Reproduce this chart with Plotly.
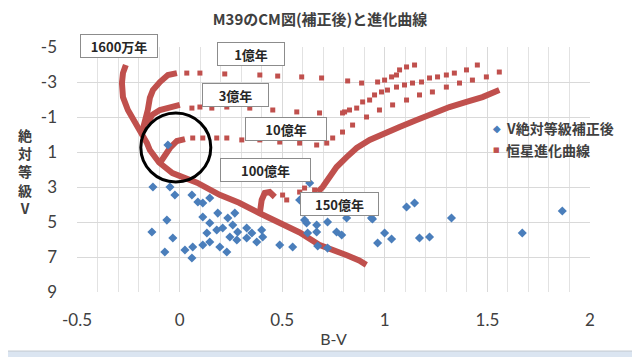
import plotly.graph_objects as go

# ---------------- data ----------------
# Observed stars of M39: B-V colour index and corrected absolute magnitude V
star_bv = [-0.130, -0.047, -0.023, 0.060, 0.089, 0.113, 0.147, 0.113, 0.186, 0.235,
           0.269, -0.062, -0.135, -0.033, 0.147, 0.181, 0.210, 0.133, 0.259, 0.283,
           0.327, 0.352, 0.400, 0.245, 0.279, 0.327, 0.376, 0.405, 0.147, 0.113,
           0.064, 0.026, -0.072, 0.060, 0.196, 0.230, 0.488, 0.551, 0.619, 0.668,
           0.454, 0.585, -0.057, 0.634, 0.609, 0.668, 0.721, 0.624, 0.765, 0.790,
           0.814, 0.935, 0.940, 1.106, 1.145, 1.325, 0.999, 1.033, 0.965, 1.169,
           1.218, 1.670, 1.865, 0.673, 0.721]
star_mv = [3.00, 3.00, 3.46, 3.46, 3.86, 3.91, 3.63, 4.71, 4.49, 4.77,
           4.49, 4.89, 5.57, 5.91, 5.06, 5.46, 5.34, 5.63, 5.17, 5.57,
           5.34, 5.63, 5.46, 5.86, 6.03, 5.91, 6.14, 5.86, 6.14, 6.31,
           6.43, 6.60, 6.71, 7.06, 6.43, 6.71, 6.31, 6.43, 5.06, 5.57,
           2.49, 3.74, 0.60, 2.77, 4.89, 5.17, 5.00, 5.63, 5.57, 5.74,
           4.77, 4.77, 4.83, 4.14, 3.91, 4.77, 5.63, 5.97, 6.20, 5.91,
           5.86, 5.63, 4.37, 6.37, 6.49]

# Isochrones (恒星進化曲線) - densely sampled parts
iso16m_bv = [-0.262, -0.276, -0.281, -0.276, -0.252, -0.218, -0.184, -0.159, -0.145, -0.100,
             -0.035, 0.085, 0.195, 0.290, 0.390, 0.490, 0.585, 0.680, 0.730, 0.815, 0.875, 0.910]
iso16m_mv = [-3.97, -3.51, -2.94, -2.14, -1.40, -0.71, -0.09, 0.49, 0.89, 1.60,
             2.20, 2.75, 3.45, 3.90, 4.50, 5.05, 5.60, 6.30, 6.50, 6.90, 7.20, 7.45]
iso1e8_bv = [-0.184, -0.169, -0.155, -0.145, -0.130, -0.096, -0.057, -0.013]
iso1e8_mv = [-0.09, -0.66, -1.40, -2.09, -2.54, -3.00, -3.40, -3.51]
iso3e8_bv = [-0.159, -0.135, -0.096, -0.057, 0.001]
iso3e8_mv = [-0.54, -1.11, -1.40, -1.51, -1.69]
iso1e9_bv = [-0.096, -0.072, -0.047, -0.013, 0.026]
iso1e9_mv = [1.63, 1.17, 0.77, 0.37, 0.26]
iso1e10_bv = [0.391, 0.400, 0.415, 0.439, 0.464]
iso1e10_mv = [4.49, 3.74, 3.34, 3.29, 3.57]
giant_bv = [0.673, 0.697, 0.731, 0.765, 0.814, 0.863, 0.926, 1.009, 1.072, 1.155,
            1.232, 1.315, 1.398, 1.476, 1.558]
giant_mv = [3.29, 3.00, 2.43, 1.86, 1.29, 0.77, 0.31, -0.14, -0.43, -0.83,
            -1.23, -1.57, -1.86, -2.14, -2.54]

# Isochrones - sparsely sampled parts (separate points)
dots1e8_bv = [0.035, 0.099, 0.220, 0.391, 0.478, 0.595, 0.692, 0.819, 0.887, 0.965,
              0.999, 1.033, 1.057, 1.072, 1.106, 1.145]
dots1e8_mv = [-3.51, -3.51, -3.46, -3.40, -3.34, -3.29, -3.23, -3.06, -2.94, -3.00,
              -3.11, -3.29, -3.40, -3.69, -3.86, -3.97]
dots3e8_bv = [0.060, 0.099, 0.157, 0.230, 0.342, 0.454, 0.571, 0.682, 0.794, 0.804,
              0.828, 0.863, 0.892, 0.926, 0.950, 0.984, 1.013, 1.057, 1.096, 1.135,
              1.179, 1.218, 1.257, 1.300, 1.339, 1.398, 1.451]
dots3e8_mv = [-1.51, -1.57, -1.51, -1.57, -1.51, -1.40, -1.29, -1.23, -1.23, -1.29,
              -1.40, -1.51, -1.86, -1.97, -2.26, -2.43, -2.54, -2.71, -2.83, -2.94,
              -3.00, -3.23, -3.29, -3.40, -3.51, -3.69, -3.97]
dots1e9_bv = [0.064, 0.113, 0.181, 0.230, 0.303, 0.391, 0.488, 0.585, 0.668, 0.717,
              0.746, 0.794, 0.843, 0.911, 0.974, 1.038, 1.106, 1.169, 1.232, 1.300,
              1.364, 1.427, 1.495, 1.558]
dots1e9_mv = [0.20, 0.20, 0.20, 0.20, 0.31, 0.31, 0.43, 0.49, 0.60, 0.49,
              0.20, -0.14, -0.54, -1.00, -1.40, -1.69, -1.97, -2.26, -2.43, -2.71,
              -2.94, -3.11, -3.29, -3.57]
dots1e10_bv = [0.502, 0.522, 0.585, 0.609, 0.644, 0.658]
dots1e10_mv = [3.46, 3.74, 3.29, 3.06, 3.46, 3.17]

# Age labels and their positions (B-V, Mv)
age_labels = ["1億年", "3億年", "10億年", "100億年", "150億年"]
age_label_bv = [0.347, 0.274, 0.517, 0.420, 0.780]
age_label_mv = [-4.60, -2.26, -0.31, 2.03, 3.97]
age_label_w = [64, 63, 78, 87, 75]

x_tick_vals = [-0.5, 0, 0.5, 1, 1.5, 2]
x_tick_text = ["-0.5", "0", "0.5", "1", "1.5", "2"]
y_tick_vals = [-5, -3, -1, 1, 3, 5, 7, 9]
y_tick_text = ["-5", "-3", "-1", "1", "3", "5", "7", "9"]

RED = "#C0504D"
BLUE = "#4A7EBB"
CJK = "Noto Sans CJK JP"
TXT = "#404040"

# ---------------- figure ----------------
fig = go.Figure()

def join(segs):
    xs, ys = [], []
    for bx, my in segs:
        xs += list(bx) + [None]
        ys += list(my) + [None]
    return xs, ys

lx, ly = join([(iso16m_bv, iso16m_mv), (iso1e8_bv, iso1e8_mv), (iso3e8_bv, iso3e8_mv),
               (iso1e9_bv, iso1e9_mv), (iso1e10_bv, iso1e10_mv), (giant_bv, giant_mv)])
fig.add_trace(go.Scatter(x=lx, y=ly, mode="lines", line=dict(color=RED, width=6),
                         showlegend=False, hoverinfo="skip"))
dx = dots1e8_bv + dots3e8_bv + dots1e9_bv + dots1e10_bv
dy = dots1e8_mv + dots3e8_mv + dots1e9_mv + dots1e10_mv
fig.add_trace(go.Scatter(x=dx, y=dy, mode="markers", name="恒星進化曲線",
                         marker=dict(symbol="square", size=5, color=RED),
                         showlegend=False))
fig.add_trace(go.Scatter(x=star_bv, y=star_mv, mode="markers", name="V絶対等級補正後",
                         marker=dict(symbol="diamond", size=7, color=BLUE),
                         showlegend=False))

annotations = []
box = dict(showarrow=False, bordercolor="#8c8c8c", borderwidth=1, bgcolor="white",
           borderpad=1, height=20, xanchor="center", yanchor="middle",
           font=dict(family=CJK, size=13, color="#262626"))
annotations.append(dict(text="<b>1600万年</b>", xref="paper", yref="paper",
                        x=0.0819, y=1.004, width=74, **box))
for t, bx, my, w in zip(age_labels, age_label_bv, age_label_mv, age_label_w):
    annotations.append(dict(text="<b>%s</b>" % t, xref="x", yref="y", x=bx, y=my,
                            width=w, **box))

# y-axis title (vertical stacked)
annotations.append(dict(text="<b>絶<br>対<br>等<br>級<br>V</b>", xref="paper", yref="paper",
                        x=-0.101, y=0.492, xanchor="center", yanchor="middle", showarrow=False,
                        font=dict(family=CJK, size=14, color=TXT)))
# legend (manual)
leg = dict(xref="paper", yref="paper", showarrow=False, yanchor="middle")
annotations.append(dict(text="◆", x=0.8187, y=0.669, xanchor="center",
                        font=dict(family="DejaVu Sans", size=10, color=BLUE), **leg))
annotations.append(dict(text="■", x=0.8187, y=0.580, xanchor="center",
                        font=dict(family="DejaVu Sans", size=7, color=RED), **leg))
annotations.append(dict(text="<b>V絶対等級補正後</b>", x=0.832, y=0.669, xanchor="left",
                        font=dict(family=CJK, size=14, color=TXT), **leg))
annotations.append(dict(text="<b>恒星進化曲線</b>", x=0.832, y=0.580, xanchor="left",
                        font=dict(family=CJK, size=14, color=TXT), **leg))

shapes = [
    dict(type="rect", xref="paper", yref="paper", x0=-0.1365, x1=1.0838, y0=-0.241, y1=1.167,
         fillcolor="white", line=dict(color="#c4c9d0", width=1), layer="below"),
    dict(type="circle", xref="x", yref="y", x0=-0.189, x1=0.152, y0=-1.23, y1=2.71,
         line=dict(color="black", width=3)),
]

# The page body adds an 8px offset, so the layout is laid out 8px up/left.
fig.update_layout(
    width=640, height=357,
    margin=dict(l=69, r=58, t=39, b=73),
    paper_bgcolor="#dbe5f1", plot_bgcolor="white",
    title=dict(text="<b>M39のCM図(補正後)と進化曲線</b>", x=312 / 640, xref="container",
               y=1 - 12 / 357, yref="container", xanchor="center", yanchor="middle",
               font=dict(family=CJK, size=15, color=TXT)),
    annotations=annotations, shapes=shapes,
    showlegend=False,
)
fig.update_xaxes(range=[-0.5, 2], tickvals=x_tick_vals, ticktext=x_tick_text,
                 showgrid=True, gridcolor="#d9d9d9", gridwidth=1, zeroline=False,
                 showline=False, ticks="", ticklabelstandoff=16,
                 minor=dict(dtick=0.1, tick0=-0.5, showgrid=True, gridcolor="#e2e2e2"),
                 tickfont=dict(family="Lato", size=17, color=TXT),
                 title=dict(text="B-V", standoff=4, font=dict(family="Lato", size=16, color=TXT)))
fig.update_yaxes(range=[9, -5], tickvals=y_tick_vals, ticktext=y_tick_text,
                 showgrid=True, gridcolor="#d9d9d9", gridwidth=1, zeroline=False,
                 showline=False, ticks="", ticklabelstandoff=19,
                 tickfont=dict(family="Lato", size=17, color=TXT))

fig.write_html("out.html")
